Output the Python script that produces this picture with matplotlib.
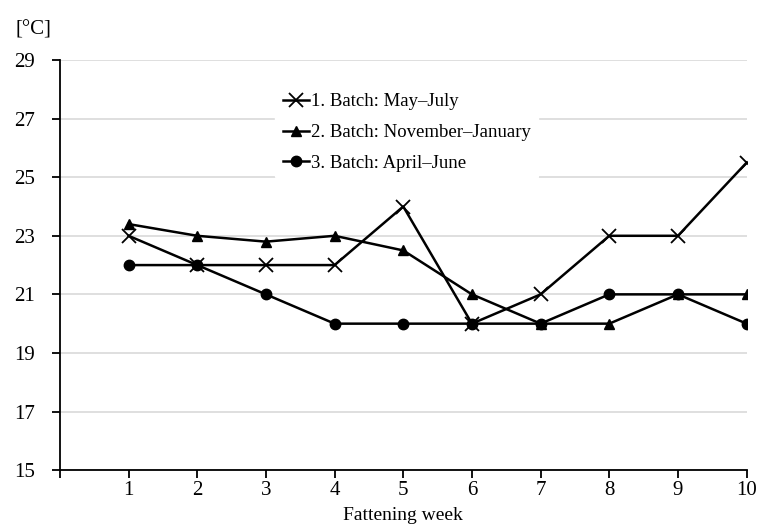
import matplotlib.pyplot as plt

weeks = [1, 2, 3, 4, 5, 6, 7, 8, 9, 10]
batch1 = [23, 22, 22, 22, 24, 20, 21, 23, 23, 25.5]
batch2 = [23.4, 23, 22.8, 23, 22.5, 21, 20, 20, 21, 21]
batch3 = [22, 22, 21, 20, 20, 20, 20, 21, 21, 20]
labels = ["1. Batch: May\u2013July", "2. Batch: November\u2013January", "3. Batch: April\u2013June"]

plt.rcParams['font.family'] = ['Liberation Serif', 'DejaVu Serif']

fig = plt.figure(figsize=(7.58, 5.27), dpi=100)
ax = fig.add_axes([0.079, 0.108, 0.906, 0.778])

ax.plot(weeks, batch1, marker='x', markersize=10, markeredgewidth=1.3, color='black', lw=1.8, label=labels[0])
ax.plot(weeks, batch2, marker='^', markersize=7.5, color='black', lw=1.8, label=labels[1])
ax.plot(weeks, batch3, marker='o', markersize=7.5, color='black', lw=1.8, label=labels[2])

ax.set_xlim(0, 10)
ax.set_ylim(15, 29)
ax.set_xticks(range(0, 11))
ax.set_xticklabels([''] + [str(w) for w in weeks])
ax.set_yticks(range(15, 30, 2))
ax.yaxis.grid(True, color='#d9d9d9', lw=1.2)
ax.set_axisbelow(True)
for s in ['top', 'right']:
    ax.spines[s].set_visible(False)
ax.spines['left'].set_linewidth(1.3)
ax.spines['bottom'].set_linewidth(1.3)
ax.tick_params(axis='both', labelsize=15, width=1.3, length=6)
ax.tick_params(axis='x', pad=2)
ax.tick_params(axis='y', pad=12)

ax.set_xlabel('Fattening week', fontsize=14, labelpad=5)
fig.text(0.02, 0.935, '[\u00b0C]', fontsize=15)

leg = ax.legend(loc='upper left', bbox_to_anchor=(0.3, 0.96), frameon=True, fontsize=13.5,
                handlelength=1.4, handletextpad=0.1, labelspacing=0.72, borderpad=0.4)
leg.get_frame().set_edgecolor('white')
leg.get_frame().set_facecolor('white')
leg.get_frame().set_alpha(1)

fig.savefig('out.png', dpi=100)
